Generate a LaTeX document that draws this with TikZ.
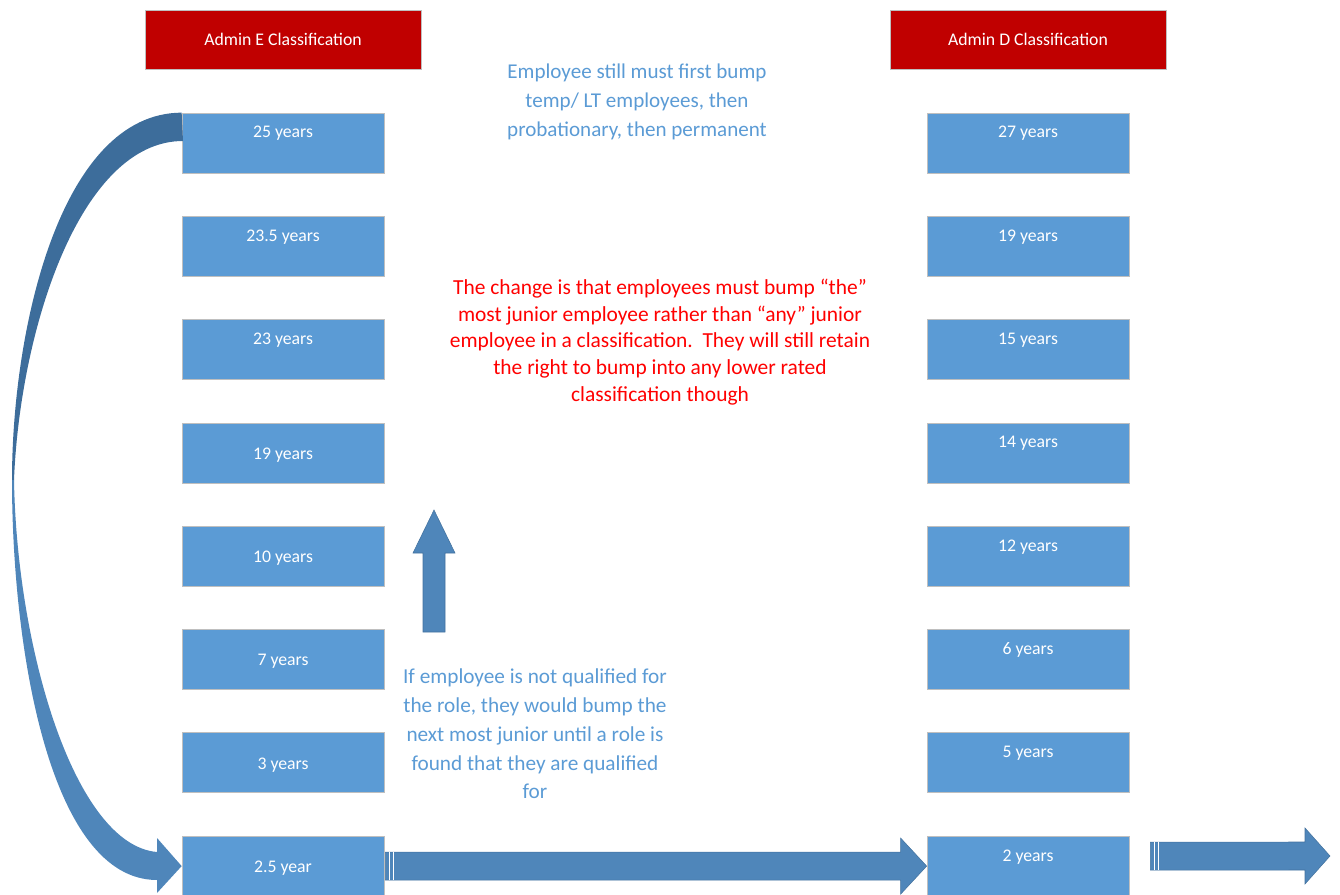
\documentclass[tikz,border=0pt]{standalone}
\usepackage{fontspec}
\setmainfont{Carlito}
\usepackage{xcolor}
\usetikzlibrary{positioning, calc}
\definecolor{yearblue}{HTML}{5B9BD5}
\definecolor{arrowblue}{HTML}{4F86BA}
\definecolor{curvedark}{HTML}{3D6D9B}
\definecolor{headred}{HTML}{C00000}
\definecolor{edgegrey}{HTML}{BFBFBF}

\begin{document}
\begin{tikzpicture}[
    x=0.02cm, y=-0.02cm,
    yearbox/.style={rectangle, draw=edgegrey, fill=yearblue, minimum width=4.04cm, minimum height=1.2cm, inner sep=0pt},
    headbox/.style={rectangle, draw=edgegrey, fill=headred, minimum width=5.52cm, minimum height=1.18cm, inner sep=0pt, text=white, font=\fontsize{10.1}{12}\selectfont},
    yeartext/.style={text=white, inner sep=0pt, font=\fontsize{10.1}{12}\selectfont},
    note/.style={align=center, inner sep=0pt, font=\fontsize{12}{16.4}\selectfont},
    bigarrow/.style={fill=arrowblue, draw=arrowblue!85!black, line width=0.3pt},
]
\useasboundingbox (0,0) rectangle (1340,895);

\node [headbox] (headE) at (283,39.5) {Admin E Classification};
\node [headbox] (headD) at (1028,39.5) {Admin D Classification};

% Admin E column: first three labels sit near the top of the box
\foreach \yr [count=\i] in {25 years, 23.5 years, 23 years, 19 years, 10 years, 7 years, 3 years, 2.5 year} {
    \node [yearbox] (e\i) at (283, {143+103.3*(\i-1)}) {};
    \ifnum\i<4
        \node [yeartext] at ($(e\i.north)+(0,21)$) {\yr};
    \else
        \node [yeartext] at ($(e\i)+(0,2)$) {\yr};
    \fi
}

% Admin D column
\foreach \yr [count=\i] in {27 years, 19 years, 15 years, 14 years, 12 years, 6 years, 5 years, 2 years} {
    \node [yearbox] (d\i) at (1028, {143+103.3*(\i-1)}) {};
    \node [yeartext] at ($(d\i.north)+(0,21)$) {\yr};
}

% notes
\node [note, text=yearblue] (firstbump) at (637,102) {Employee still must first bump\\temp/ LT employees, then\\probationary, then permanent};
\node [note, text=red, font=\fontsize{12.2}{15.3}\selectfont] (change) at (660,342) {The change is that employees must bump “the”\\most junior employee rather than “any” junior\\employee in a classification.\ \ They will still retain\\the right to bump into any lower rated\\classification though};
\node [note, text=yearblue, font=\fontsize{12.1}{16.4}\selectfont] (notqual) at (535,734) {If employee is not qualified for\\the role, they would bump the\\next most junior until a role is\\found that they are qualified\\for};

% curved arrow from the top box down to the bottom box
\fill [curvedark] (e1.north west) .. controls (60,113) and (12,330) .. (12,480) -- (14,480) .. controls (20,330) and (80,141) .. (183,141) -- cycle;
\fill [arrowblue] (12,480) .. controls (12,650) and (50,880) .. (157,880) -- (157,893) -- (e8.west) -- (157,838) -- (157,852) .. controls (75,845) and (17,650) .. (14,480) -- cycle;

% straight block arrows
\path [bigarrow] ($(e8.east)+(1,14)$) -- ($(d8.west)+(-26,14)$) -- ($(d8.west)+(-26,28)$) -- (d8.west) -- ($(d8.west)+(-26,-28)$) -- ($(d8.west)+(-26,-14)$) -- ($(e8.east)+(1,-14)$) -- cycle;
\draw [white, line width=0.5pt] ($(e8.east)+(5,-14)$) -- ($(e8.east)+(5,14)$) ($(e8.east)+(9,-14)$) -- ($(e8.east)+(9,14)$);

\coordinate (out) at (1330,856);
\path [bigarrow] ($(d8.east)+(21,-24)$) -- ($(out)+(-25,-14)$) -- ($(out)+(-25,-28)$) -- (out) -- ($(out)+(-25,28)$) -- ($(out)+(-25,14)$) -- ($(d8.east)+(21,4)$) -- cycle;
\draw [white, line width=0.5pt] ($(d8.east)+(25,-24)$) -- ($(d8.east)+(25,4)$) ($(d8.east)+(29,-24)$) -- ($(d8.east)+(29,4)$);

\coordinate (uptip) at (434,510);
\path [bigarrow] ($(uptip)+(-11,122)$) -- ($(uptip)+(-11,43)$) -- ($(uptip)+(-21,43)$) -- (uptip) -- ($(uptip)+(21,43)$) -- ($(uptip)+(11,43)$) -- ($(uptip)+(11,122)$) -- cycle;
\end{tikzpicture}
\end{document}
